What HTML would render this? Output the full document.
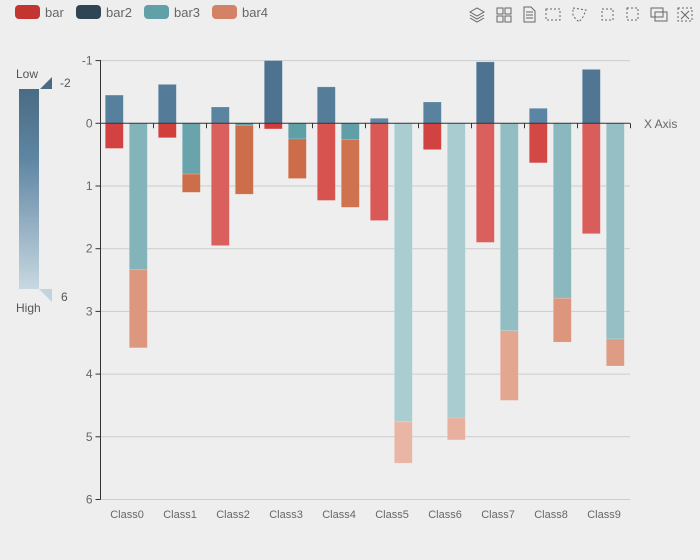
<!DOCTYPE html>
<html><head><meta charset="utf-8"><style>
html,body{margin:0;padding:0;background:#eeeeee;}
svg{display:block;font-family:"Liberation Sans",sans-serif;}
</style></head><body>
<svg id="s" width="700" height="560" xmlns="http://www.w3.org/2000/svg">
<defs><linearGradient id="vm" x1="0" y1="0" x2="0" y2="1">
<stop offset="0" stop-color="#4a6b83"/><stop offset="0.35" stop-color="#5e86a3"/><stop offset="1" stop-color="#c8d8e1"/></linearGradient></defs>
<rect width="700" height="560" fill="#eeeeee"/>
<!-- legend -->
<rect x="15" y="5" width="25" height="14" rx="4" fill="#c23531"/><text x="45" y="17" font-size="13" fill="#666">bar</text>
<rect x="76" y="5" width="25" height="14" rx="4" fill="#2f4554"/><text x="106" y="17" font-size="13" fill="#666">bar2</text>
<rect x="144" y="5" width="25" height="14" rx="4" fill="#61a0a8"/><text x="174" y="17" font-size="13" fill="#666">bar3</text>
<rect x="212" y="5" width="25" height="14" rx="4" fill="#d48265"/><text x="242" y="17" font-size="13" fill="#666">bar4</text>
<!-- toolbox -->
<g fill="none" stroke="#666" stroke-width="1">
<path d="M470 12 l7 -4 l7 4 l-7 4z M470 15 l7 4 l7 -4 M470 18 l7 4 l7 -4"/>
<rect x="497" y="8" width="6" height="6"/><rect x="505" y="8" width="6" height="6"/><rect x="497" y="16" width="6" height="6"/><rect x="505" y="16" width="6" height="6"/>
<path d="M524 7 h7 l4 4 v11 h-11z M526 12 h7 M526 15 h7 M526 18 h7"/>
<rect x="546" y="9" width="14" height="11" stroke-dasharray="2,2"/>
<path d="M573 8 l13 2 l-3 7 l-4 5 l-6 -6z" stroke-dasharray="2,2"/>
<rect x="602" y="9" width="11" height="11" stroke-dasharray="2,2"/>
<rect x="627" y="8" width="11" height="12" stroke-dasharray="2,2"/>
<rect x="651" y="8" width="12" height="9"/><rect x="655" y="12" width="12" height="9"/>
<rect x="678" y="8" width="14" height="13" stroke-dasharray="2,2"/><path d="M681 11 l8 8 M689 11 l-8 8"/>
</g>
<!-- visualMap -->
<text x="16" y="78" font-size="12" fill="#555">Low</text>
<path d="M40 89 L52 77 L52 89z" fill="#4a6b83"/>
<text x="60" y="87" font-size="12" fill="#555">-2</text>
<rect x="19" y="89" width="20" height="200" fill="url(#vm)"/>
<path d="M39 289 L52 289 L52 302z" fill="#c1d3dd"/>
<text x="61" y="301" font-size="12" fill="#555">6</text>
<text x="16" y="312" font-size="12" fill="#555">High</text>
<g id="plot"></g>
</svg>
<script>
var g=document.getElementById('plot'),h='';
var y0=123.3,u=62.7,L=100.5,R=630,cw=53;
function Y(v){return y0+v*u;}
for(var t=-1;t<=6;t++){var y=Y(t).toFixed(1);
 if(t!==0)h+='<line x1="'+L+'" y1="'+y+'" x2="'+R+'" y2="'+y+'" stroke="#ccc"/>';
 h+='<line x1="'+(L-5)+'" y1="'+y+'" x2="'+L+'" y2="'+y+'" stroke="#333"/>';
 h+='<text x="'+(L-8)+'" y="'+(+y+4)+'" font-size="12" fill="#666" text-anchor="end">'+t+'</text>';}
var d=[[-0.45,0.4,2.33,3.58],[-0.62,0.23,0.81,1.1],[-0.26,1.95,0.03,1.13],[-1,0.09,0.25,0.88],[-0.58,1.23,0.26,1.34],[-0.08,1.55,4.76,5.42],[-0.34,0.42,4.7,5.05],[-0.98,1.9,3.31,4.42],[-0.24,0.63,2.79,3.49],[-0.86,1.76,3.44,3.87]];
function mix(a,b,t){t=Math.max(0,Math.min(1,t));var r='#';for(var i=0;i<3;i++){var x=parseInt(a.substr(1+2*i,2),16),z=parseInt(b.substr(1+2*i,2),16);r+=('0'+Math.round(x+(z-x)*t).toString(16)).slice(-2);}return r;}
function rect(x,a,b,c){var ya=Y(Math.min(a,b)),yb=Y(Math.max(a,b));h+='<rect x="'+x.toFixed(1)+'" y="'+ya.toFixed(1)+'" width="18" height="'+(yb-ya).toFixed(1)+'" fill="'+c+'" stroke="rgba(255,255,255,0.25)" stroke-width="0.6"/>';}
for(var k=0;k<10;k++){var r=d[k],x1=105.3+cw*k,x2=129.3+cw*k;
 rect(x1,0,r[0],mix('#4d7390','#5e88a5',(r[0]+1)/0.9));
 rect(x1,0,r[1],mix('#d03a38','#da605d',r[1]/1.9));
 rect(x2,0,r[2],mix('#5f9ea6','#abcdd1',(r[2]-0.2)/4.6));
 rect(x2,r[2],r[3],mix('#cc6c48','#e9b6a6',(r[3]-1)/4.4));
 h+='<text x="'+(L+cw*k+26.5)+'" y="518" font-size="11" fill="#666" text-anchor="middle">Class'+k+'</text>';}
h+='<line x1="'+L+'" y1="'+y0+'" x2="'+R+'" y2="'+y0+'" stroke="#333"/>';
for(var k=0;k<=10;k++){var x=(L+cw*k).toFixed(1);h+='<line x1="'+x+'" y1="'+y0+'" x2="'+x+'" y2="'+(y0+5)+'" stroke="#333"/>';}
h+='<line x1="'+L+'" y1="60" x2="'+L+'" y2="'+Y(6)+'" stroke="#333"/>';
h+='<text x="644" y="128" font-size="12" fill="#666">X Axis</text>';
g.innerHTML=h;
</script>
</body></html>
